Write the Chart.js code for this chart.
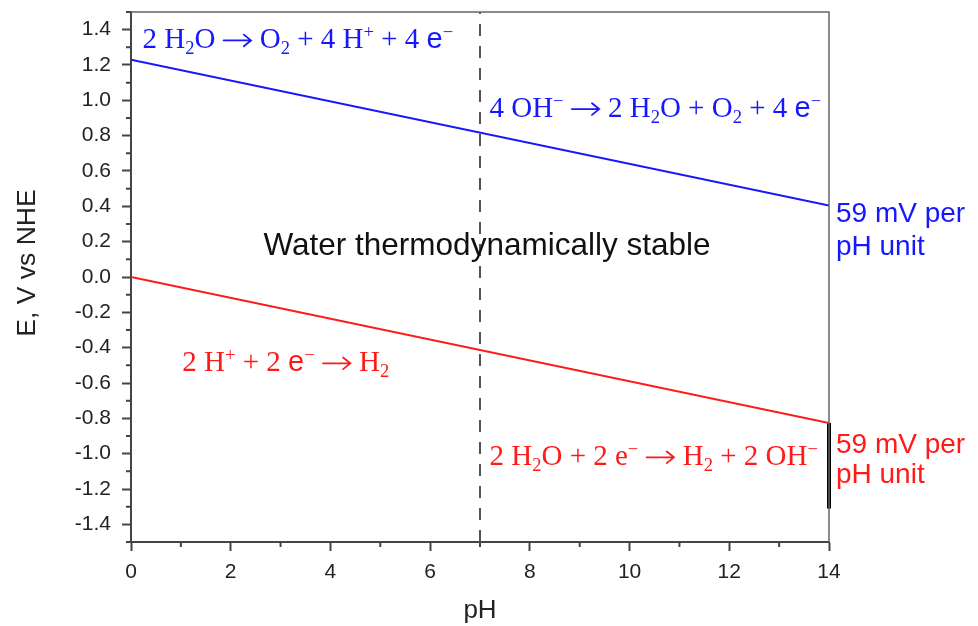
<!DOCTYPE html>
<html>
<head>
<meta charset="utf-8">
<script src="https://cdn.jsdelivr.net/npm/chart.js@4"></script>
<style>
  html, body { margin: 0; padding: 0; background: #fff; }
  #wrap { width: 978px; height: 626px; }
</style>
</head>
<body>
<div id="wrap"><canvas id="chart"></canvas></div>
<script>
// pH range and the two water stability lines (E = E0 - 0.059 pH)
const phEnds = [0, 14];
const oxygenE = [1.23, 0.404];
const hydrogenE = [0, -0.826];

// neutral pH marker and the 59 mV bar on the right edge
const neutralPh = [7, 7];
const neutralE = [-1.5, 1.5];
const barPh = [14, 14];
const barE = [-0.826, -1.31];

// axis ticks
const xTicks = [0, 2, 4, 6, 8, 10, 12, 14];
const xMinor = [1, 3, 5, 7, 9, 11, 13];
const yTicks = [-1.4, -1.2, -1.0, -0.8, -0.6, -0.4, -0.2, 0, 0.2, 0.4, 0.6, 0.8, 1.0, 1.2, 1.4];
const yMinor = [-1.5, -1.3, -1.1, -0.9, -0.7, -0.5, -0.3, -0.1, 0.1, 0.3, 0.5, 0.7, 0.9, 1.1, 1.3, 1.5];

const BLUE = '#1717ff';
const RED = '#ff1a1a';
const AXIS = '#444';
const SANS = '"Liberation Sans", Arial, sans-serif';
const SERIF = '"Liberation Serif", "Times New Roman", serif';

function pts(xs, ys) {
    return xs.map((x, i) => ({ x: x, y: ys[i] }));
}

// text pieces: n = normal serif, b = sub, p = sup, s = sans, a = arrow
const notes = [
    { color: BLUE, x: 0.23, y: 1.295, parts: [['2 H','n'],['2','b'],['O ','n'],['\u2192','a'],[' O','n'],['2','b'],[' + 4 H','n'],['+','p'],[' + 4 ','n'],['e','s'],['\u2212','p']] },
    { color: BLUE, x: 7.19, y: 0.906, parts: [['4 OH','n'],['\u2212','p'],[' ','n'],['\u2192','a'],[' 2 H','n'],['2','b'],['O + O','n'],['2','b'],[' + 4 ','n'],['e','s'],['\u2212','p']] },
    { color: RED, x: 1.03, y: -0.533, parts: [['2 H','n'],['+','p'],[' + 2 ','n'],['e','s'],['\u2212','p'],[' ','n'],['\u2192','a'],[' H','n'],['2','b']] },
    { color: RED, x: 7.19, y: -1.065, parts: [['2 H','n'],['2','b'],['O + 2 e','n'],['\u2212','p'],[' ','n'],['\u2192','a'],[' H','n'],['2','b'],[' + 2 OH','n'],['\u2212','p']] }
];

const plainNotes = [
    { color: '#111', x: 7.14, y: 0.124, align: 'center', size: 31.5, text: 'Water thermodynamically stable' },
    { color: BLUE, x: 14.14, y: 0.31, align: 'left', size: 28, text: '59 mV per' },
    { color: BLUE, x: 14.14, y: 0.127, align: 'left', size: 28, text: 'pH unit' },
    { color: RED, x: 14.14, y: -0.995, align: 'left', size: 28, text: '59 mV per' },
    { color: RED, x: 14.14, y: -1.168, align: 'left', size: 28, text: 'pH unit' }
];

function drawRich(ctx, note, px, py) {
    const size = 29;
    let x = px;
    note.parts.forEach(([txt, kind]) => {
        let f = size, dy = 0, fam = SERIF;
        if (kind === 'b') { f = size * 0.64; dy = size * 0.2; }
        if (kind === 'p') { f = size * 0.64; dy = -size * 0.36; }
        if (kind === 's') { fam = SANS; }
        if (kind === 'a') {
            // long thin arrow, about one em wide
            const w = size * 1.03;
            const ay = py - size * 0.27;
            ctx.save();
            ctx.strokeStyle = ctx.fillStyle;
            ctx.lineWidth = 1.8;
            ctx.lineCap = 'round';
            ctx.beginPath();
            ctx.moveTo(x + 1, ay);
            ctx.lineTo(x + w - 1.5, ay);
            ctx.moveTo(x + w - size * 0.3, ay - size * 0.2);
            ctx.lineTo(x + w - 1.5, ay);
            ctx.lineTo(x + w - size * 0.3, ay + size * 0.2);
            ctx.stroke();
            ctx.restore();
            x += w;
            return;
        }
        ctx.font = f + 'px ' + fam;
        ctx.fillText(txt, x, py + dy);
        x += ctx.measureText(txt).width;
    });
}

const decorPlugin = {
    id: 'decor',
    afterDatasetsDraw(chart) {
        const ctx = chart.ctx;
        const area = chart.chartArea;
        const xs = chart.scales.x;
        const ys = chart.scales.y;
        ctx.save();

        // top and right frame
        ctx.strokeStyle = '#666';
        ctx.lineWidth = 1.5;
        ctx.beginPath();
        ctx.moveTo(area.left, area.top);
        ctx.lineTo(area.right, area.top);
        ctx.lineTo(area.right, area.bottom);
        ctx.stroke();

        // minor ticks
        ctx.strokeStyle = AXIS;
        ctx.lineWidth = 2;
        ctx.beginPath();
        xMinor.forEach(v => {
            const p = xs.getPixelForValue(v);
            ctx.moveTo(p, area.bottom);
            ctx.lineTo(p, area.bottom + 5);
        });
        yMinor.forEach(v => {
            const p = ys.getPixelForValue(v);
            ctx.moveTo(area.left, p);
            ctx.lineTo(area.left - 5, p);
        });
        ctx.stroke();

        // y axis title, sits a little above the middle of the axis
        ctx.fillStyle = '#222';
        ctx.font = '26.5px ' + SANS;
        ctx.textAlign = 'center';
        ctx.textBaseline = 'middle';
        ctx.translate(28, 263);
        ctx.rotate(-Math.PI / 2);
        ctx.fillText('E, V vs NHE', 0, 0);
        ctx.setTransform(1, 0, 0, 1, 0, 0);

        ctx.textBaseline = 'alphabetic';
        ctx.textAlign = 'left';
        notes.forEach(n => {
            ctx.fillStyle = n.color;
            drawRich(ctx, n, xs.getPixelForValue(n.x), ys.getPixelForValue(n.y));
        });
        plainNotes.forEach(n => {
            ctx.fillStyle = n.color;
            ctx.textAlign = n.align;
            ctx.font = n.size + 'px ' + SANS;
            ctx.fillText(n.text, xs.getPixelForValue(n.x), ys.getPixelForValue(n.y));
        });
        ctx.restore();
    }
};

new Chart(document.getElementById('chart'), {
    type: 'line',
    data: {
        datasets: [
            { data: pts(phEnds, oxygenE), borderColor: BLUE, borderWidth: 2, pointRadius: 0 },
            { data: pts(phEnds, hydrogenE), borderColor: RED, borderWidth: 2, pointRadius: 0 },
            { data: pts(neutralPh, neutralE), borderColor: '#555', borderWidth: 2, borderDash: [12, 10], pointRadius: 0 },
            { data: pts(barPh, barE), borderColor: '#000', borderWidth: 4, pointRadius: 0, clip: false }
        ]
    },
    options: {
        responsive: true,
        maintainAspectRatio: false,
        animation: false,
        events: [],
        layout: { padding: { left: 0, right: 149, top: 12, bottom: 0 } },
        plugins: { legend: { display: false }, tooltip: { enabled: false } },
        scales: {
            x: {
                type: 'linear',
                min: 0,
                max: 14,
                afterBuildTicks: scale => { scale.ticks = xTicks.map(v => ({ value: v })); },
                afterFit: scale => { scale.height = 84; scale.paddingLeft = 0; scale.paddingRight = 0; },
                grid: { drawOnChartArea: false, tickLength: 9, tickColor: AXIS, tickWidth: 2 },
                border: { display: true, color: AXIS, width: 2 },
                ticks: { color: '#222', font: { family: SANS, size: 21 }, padding: 9, maxRotation: 0 },
                title: { display: true, text: 'pH', color: '#222', font: { family: SANS, size: 26 }, padding: { top: 0, bottom: 0 } }
            },
            y: {
                type: 'linear',
                min: -1.5,
                max: 1.5,
                afterBuildTicks: scale => { scale.ticks = yTicks.map(v => ({ value: v })); },
                afterFit: scale => { scale.width = 131; scale.paddingTop = 0; scale.paddingBottom = 0; },
                grid: { drawOnChartArea: false, tickLength: 9, tickColor: AXIS, tickWidth: 2 },
                border: { display: true, color: AXIS, width: 2 },
                ticks: { color: '#222', font: { family: SANS, size: 21 }, padding: 11, callback: v => v.toFixed(1) },
                title: { display: false }
            }
        }
    },
    plugins: [decorPlugin]
});
</script>
</body>
</html>
